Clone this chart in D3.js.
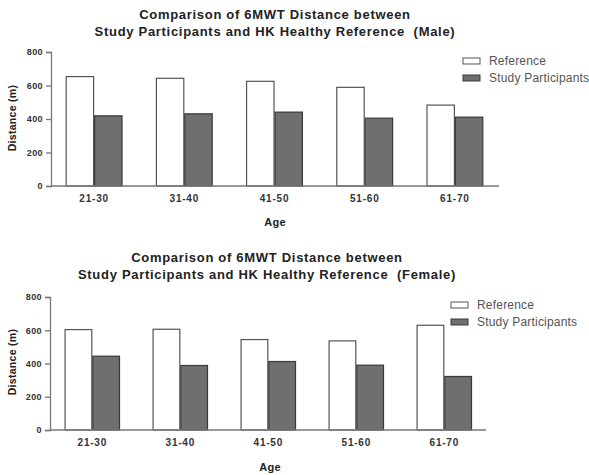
<!DOCTYPE html>
<html>
<head>
<meta charset="utf-8">
<script src="https://cdn.jsdelivr.net/npm/d3@7"></script>
<style>
  html, body { margin: 0; padding: 0; background: #fff; }
  svg { display: block; font-family: "Liberation Sans", Arial, sans-serif; }
  svg text { white-space: pre; }
</style>
</head>
<body>
<svg id="chart" width="589" height="475"></svg>
<script>
// Age groups shared by both panels
const ageGroups = ["21-30", "31-40", "41-50", "51-60", "61-70"];
const seriesNames = ["Reference", "Study Participants"];
const yTicks = [0, 200, 400, 600, 800];

// Mean 6MWT distance (m), male
const maleReference = [653, 643, 625, 589, 483];
const maleStudy = [419, 431, 441, 405, 411];

// Mean 6MWT distance (m), female
const femaleReference = [604, 606, 544, 536, 630];
const femaleStudy = [444, 388, 412, 390, 322];

const maleTitle = ["Comparison of 6MWT Distance between",
                   "Study Participants and HK Healthy Reference  (Male)"];
const femaleTitle = ["Comparison of 6MWT Distance between",
                     "Study Participants and HK Healthy Reference  (Female)"];

const svg = d3.select("#chart");
const fills = ["#ffffff", "#6f6f6f"];
const strokes = ["#555555", "#3a3a3a"];
const FONT = "Liberation Sans, Arial, sans-serif";

function drawPanel(opt) {
  const g = svg.append("g");
  const y = d3.scaleLinear().domain([0, 800]).range([opt.bottom, opt.top]);
  const x = d3.scaleBand().domain(ageGroups)
    .range([opt.xStart, opt.xEnd]).paddingInner(0.37).paddingOuter(0.185);
  const xs = d3.scaleBand().domain(seriesNames).range([0, x.bandwidth()]);

  // title
  g.selectAll("text.title").data(opt.title).join("text")
    .attr("class", "title")
    .attr("x", opt.titleX)
    .attr("y", (d, i) => opt.titleY + i * 16.5)
    .attr("text-anchor", "middle")
    .attr("font-size", 13).attr("font-weight", "bold").attr("fill", "#222")
    .attr("letter-spacing", 0.7)
    .text(d => d);

  // bars
  const rows = ageGroups.map((a, i) => ({ age: a, vals: [opt.ref[i], opt.study[i]] }));
  const grp = g.selectAll("g.grp").data(rows).join("g")
    .attr("transform", d => `translate(${x(d.age)},0)`);
  grp.selectAll("rect").data(d => d.vals.map((v, k) => ({ k, v }))).join("rect")
    .attr("x", d => xs(seriesNames[d.k]) + 0.5)
    .attr("width", xs.bandwidth() - 1)
    .attr("y", d => y(d.v))
    .attr("height", d => y(0) - y(d.v))
    .attr("fill", d => fills[d.k])
    .attr("stroke", d => strokes[d.k])
    .attr("stroke-width", 1.2);

  // y axis
  const ya = g.append("g").attr("transform", `translate(${opt.axisX},0)`)
    .call(d3.axisLeft(y).tickValues(yTicks).tickSize(5).tickPadding(3));
  ya.select(".domain").attr("stroke", "#777").attr("stroke-width", 1.3);
  ya.selectAll(".tick line").attr("stroke", "#777").attr("stroke-width", 1.3);
  ya.selectAll(".tick text").attr("font-size", 9).attr("font-weight", "bold")
    .attr("letter-spacing", 0.4)
    .attr("fill", "#333").attr("font-family", FONT);

  // x axis baseline and labels
  g.append("line")
    .attr("x1", opt.axisX).attr("x2", opt.axisEnd)
    .attr("y1", y(0)).attr("y2", y(0))
    .attr("stroke", "#777").attr("stroke-width", 1.3);
  const xa = g.append("g").attr("transform", `translate(0,${y(0)})`)
    .call(d3.axisBottom(x).tickSize(0).tickPadding(9));
  xa.select(".domain").remove();
  xa.selectAll(".tick text").attr("font-size", 10).attr("font-weight", "bold")
    .attr("letter-spacing", 0.8)
    .attr("fill", "#333").attr("font-family", FONT);

  // axis titles
  g.append("text").attr("x", opt.ageX).attr("y", opt.ageY)
    .attr("text-anchor", "middle").attr("font-size", 11).attr("font-weight", "bold")
    .attr("letter-spacing", 0.3)
    .attr("fill", "#222").text("Age");
  g.append("text")
    .attr("transform", `translate(${opt.yLabelX},${opt.yLabelY}) rotate(-90)`)
    .attr("text-anchor", "middle").attr("font-size", 10.5).attr("font-weight", "bold")
    .attr("letter-spacing", 0.3)
    .attr("fill", "#222").text("Distance (m)");

  // legend
  const lg = g.append("g").attr("transform", `translate(${opt.legendX},${opt.legendY})`);
  const items = lg.selectAll("g").data(seriesNames).join("g")
    .attr("transform", (d, i) => `translate(0,${i * 17})`);
  items.append("rect").attr("x", 0).attr("y", -3).attr("width", 17).attr("height", 6)
    .attr("fill", (d, i) => fills[i]).attr("stroke", (d, i) => strokes[i]).attr("stroke-width", 1);
  items.append("text").attr("x", 26).attr("y", 0).attr("dy", "0.35em")
    .attr("font-size", 12).attr("letter-spacing", 0.2)
    .attr("fill", "#555").text(d => d);
}

drawPanel({
  title: maleTitle, titleX: 275, titleY: 19,
  ref: maleReference, study: maleStudy,
  top: 52, bottom: 186, xStart: 49, xEnd: 500, axisX: 51, axisEnd: 499,
  ageX: 275, ageY: 226, yLabelX: 16, yLabelY: 118,
  legendX: 463, legendY: 61
});

drawPanel({
  title: femaleTitle, titleX: 267, titleY: 262,
  ref: femaleReference, study: femaleStudy,
  top: 297, bottom: 430, xStart: 48.3, xEnd: 488.3, axisX: 50, axisEnd: 486,
  ageX: 270, ageY: 471, yLabelX: 16, yLabelY: 362,
  legendX: 451, legendY: 305
});
</script>
</body>
</html>
